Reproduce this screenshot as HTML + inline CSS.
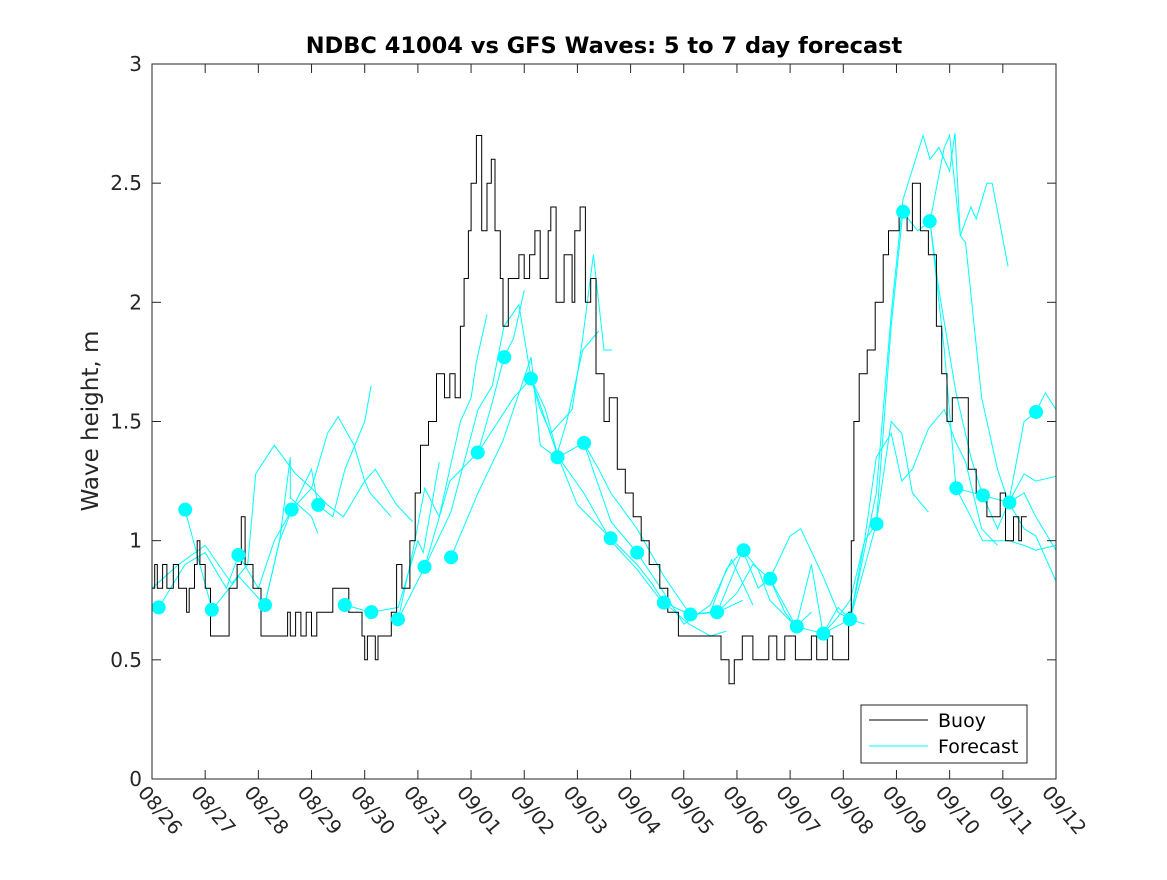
<!DOCTYPE html>
<html><head><meta charset="utf-8"><style>
html,body{margin:0;padding:0;background:#fff;}
svg text{font-family:"DejaVu Sans","Liberation Sans",sans-serif;}
</style></head><body>
<svg id="chart" width="1167" height="875" xmlns="http://www.w3.org/2000/svg">
<rect width="1167" height="875" fill="#fff"/>
<text x="604" y="53" text-anchor="middle" font-size="22.5" font-weight="bold" fill="#000">NDBC 41004 vs GFS Waves: 5 to 7 day forecast</text>
<text transform="translate(98,421) rotate(-90)" text-anchor="middle" font-size="23" fill="#262626">Wave height, m</text>
<g id="plot"></g>
<g id="axes"></g>
<g>
<rect x="861" y="705" width="166" height="58" fill="#fff" stroke="#262626" stroke-width="1"/>
<line x1="869" y1="720" x2="928" y2="720" stroke="#000"/>
<text x="938" y="727" font-size="19" fill="#000">Buoy</text>
<line x1="869" y1="746" x2="928" y2="746" stroke="#00ffff"/>
<text x="938" y="753" font-size="19" fill="#000">Forecast</text>
</g>
</svg>
<script>
const dateLabels=["08/26","08/27","08/28","08/29","08/30","08/31","09/01","09/02","09/03","09/04","09/05","09/06","09/07","09/08","09/09","09/10","09/11","09/12"];
const yTicks=[0,0.5,1,1.5,2,2.5,3];
const buoy=[[0,0.8],[0.05,0.9],[0.1,0.8],[0.2,0.9],[0.28,0.8],[0.4,0.9],[0.5,0.8],[0.65,0.7],[0.7,0.8],[0.8,0.9],[0.85,1.0],[0.9,0.9],[1.0,0.8],[1.1,0.6],[1.3,0.6],[1.45,0.8],[1.6,0.9],[1.68,1.1],[1.75,0.9],[1.9,0.8],[2.05,0.6],[2.5,0.6],[2.55,0.7],[2.6,0.6],[2.7,0.7],[2.8,0.6],[2.9,0.7],[3.0,0.6],[3.1,0.7],[3.3,0.7],[3.4,0.8],[3.7,0.7],[3.95,0.6],[4.0,0.5],[4.05,0.6],[4.2,0.5],[4.25,0.6],[4.5,0.7],[4.6,0.9],[4.7,0.8],[4.85,1.0],[4.95,1.2],[5.05,1.4],[5.2,1.5],[5.35,1.7],[5.5,1.6],[5.6,1.7],[5.7,1.6],[5.8,1.9],[5.87,2.1],[5.95,2.3],[6.0,2.5],[6.1,2.7],[6.2,2.3],[6.3,2.5],[6.38,2.6],[6.45,2.3],[6.55,2.1],[6.6,1.9],[6.7,2.1],[6.9,2.2],[7.0,2.1],[7.1,2.2],[7.2,2.3],[7.3,2.1],[7.45,2.3],[7.5,2.4],[7.6,2.0],[7.75,2.2],[7.9,2.0],[7.95,2.3],[8.05,2.4],[8.15,2.0],[8.25,2.1],[8.35,1.7],[8.5,1.5],[8.6,1.6],[8.75,1.3],[8.9,1.2],[9.05,1.1],[9.2,1.0],[9.35,0.9],[9.55,0.8],[9.7,0.7],[9.9,0.6],[10.7,0.5],[10.85,0.4],[10.95,0.5],[11.1,0.6],[11.3,0.5],[11.6,0.6],[11.75,0.5],[11.9,0.6],[12.1,0.5],[12.4,0.6],[12.5,0.5],[12.7,0.6],[12.8,0.5],[13.1,0.7],[13.15,1.0],[13.2,1.5],[13.3,1.7],[13.45,1.8],[13.6,2.0],[13.75,2.2],[13.85,2.3],[14.05,2.4],[14.2,2.3],[14.3,2.5],[14.45,2.3],[14.6,2.2],[14.75,1.9],[14.85,1.7],[14.95,1.5],[15.05,1.6],[15.35,1.3],[15.5,1.2],[15.7,1.1],[15.95,1.2],[16.05,1.0],[16.2,1.1],[16.3,1.0],[16.35,1.1],[16.45,1.1]];
const forecastSegments=[
[[0,0.8],[0.5,0.9],[1,0.98],[1.5,0.82],[1.8,0.9],[1.95,1.28],[2.3,1.40],[2.7,1.28],[3.0,1.22],[3.3,1.15],[3.6,1.10],[4.0,1.25],[4.2,1.30],[4.6,1.15],[4.9,1.08]],
[[0.13,0.72],[0.62,0.9],[1.0,0.95],[1.4,0.80],[1.63,0.94],[2.0,0.80],[2.3,1.0],[2.63,1.13],[3.0,1.22],[3.3,1.45],[3.5,1.52],[3.8,1.40],[4.0,1.25],[4.1,1.2],[4.5,1.1]],
[[0.62,1.13],[1.13,0.71],[1.63,0.85],[2.12,0.73],[2.4,1.0],[2.63,1.13],[3.0,1.3],[3.12,1.15],[3.4,1.10],[3.63,1.3],[4.0,1.5],[4.12,1.65]],
[[2.12,0.73],[2.4,1.0],[2.6,1.35],[2.6,1.18],[3.0,1.1],[3.12,1.03]],
[[3.63,0.73],[4.12,0.70],[4.63,0.72],[5.0,1.0],[5.1,0.95],[5.4,1.33]],
[[4.63,0.67],[4.9,0.95],[5.13,1.22],[5.4,1.10],[5.8,1.50],[6.0,1.6],[6.1,1.75],[6.3,1.95]],
[[4.63,0.67],[5.13,0.89],[5.6,1.25],[6.13,1.37],[6.4,1.58],[6.62,1.77],[6.8,1.85],[7.0,2.05]],
[[5.13,0.89],[5.62,1.12],[6.13,1.55],[6.4,1.65],[6.62,1.9],[6.9,1.99],[7.13,1.68],[7.3,1.55],[7.5,1.45],[7.7,1.50],[7.9,1.55],[8.1,1.85],[8.3,2.2],[8.5,1.8],[8.65,1.8]],
[[5.62,0.93],[6.13,1.2],[6.6,1.42],[7.13,1.77],[7.3,1.4],[7.6,1.35],[7.8,1.5],[8.1,1.8],[8.4,1.88]],
[[6.13,1.37],[6.8,1.6],[7.13,1.68],[7.4,1.55],[7.64,1.35],[8.12,1.2],[8.63,1.0],[9.12,0.88],[9.6,0.74]],
[[7.13,1.68],[7.64,1.35],[8.0,1.15],[8.63,1.01],[9.12,0.90],[9.4,0.82],[9.63,0.74],[10.1,0.65],[10.5,0.6],[10.8,0.62]],
[[7.64,1.35],[8.12,1.41],[8.4,1.3],[8.63,1.2],[9.12,1.05],[9.63,0.85],[10.12,0.69],[10.63,0.70],[11.11,0.75]],
[[8.12,1.41],[8.63,1.08],[9.12,0.95],[9.63,0.78],[10.0,0.65],[10.5,0.73],[10.9,0.92],[11.3,0.73]],
[[9.63,0.74],[10.12,0.69],[10.5,0.7],[10.8,0.88],[11.11,0.96],[11.4,0.80],[11.62,0.84],[11.9,0.7],[12.11,0.64],[12.4,0.7]],
[[10.12,0.69],[10.63,0.70],[11.0,0.78],[11.3,0.9],[11.62,0.84],[12.0,1.02],[12.2,1.05],[12.62,0.85],[12.9,0.7],[13.13,0.67],[13.4,0.65]],
[[10.63,0.70],[11.11,0.96],[11.4,0.88],[11.62,0.75],[12.11,0.64],[12.4,0.9],[12.62,0.61],[12.9,0.68],[13.13,0.75],[13.4,1.0],[13.62,1.35],[13.9,1.45],[14.1,1.25],[14.3,1.3],[14.6,1.47],[14.9,1.55],[15.1,1.42],[15.3,1.33],[15.6,1.05],[15.9,0.98]],
[[11.62,0.84],[12.11,0.64],[12.62,0.61],[12.9,0.72],[13.13,0.67],[13.62,1.07],[13.9,1.5],[14.1,1.45],[14.3,1.2],[14.6,1.12]],
[[12.62,0.61],[13.13,0.67],[13.4,1.0],[13.62,1.07],[13.9,1.9],[14.12,2.38],[14.4,2.3],[14.63,2.34],[14.8,2.05],[15.12,1.62],[15.4,1.35],[15.62,1.19],[16.11,1.16],[16.4,1.2],[16.62,1.1],[17,0.96]],
[[13.13,0.67],[13.62,1.2],[13.9,1.95],[14.12,2.43],[14.5,2.70],[14.63,2.6],[14.8,2.65],[15.0,2.55],[15.1,2.71],[15.2,2.28],[15.3,2.25],[15.6,1.6],[15.9,1.3],[16.11,1.16],[16.4,1.05],[16.62,1.02],[17,0.83]],
[[14.63,2.34],[14.9,2.65],[15.0,2.7],[15.2,2.28],[15.4,2.4],[15.5,2.35],[15.7,2.5],[15.8,2.5],[16.1,2.15]],
[[14.63,2.34],[14.9,1.8],[15.12,1.22],[15.4,1.1],[15.62,1.0],[16.11,1.0],[16.4,0.98],[16.62,0.96],[17,0.98]],
[[15.12,1.22],[15.62,1.19],[15.9,1.05],[16.11,1.16],[16.4,1.28],[16.62,1.25],[17,1.27]],
[[16.11,1.16],[16.4,1.5],[16.62,1.54],[16.8,1.62],[17,1.55]]
];
const dotValues=[0.72,1.13,0.71,0.94,0.73,1.13,1.15,0.73,0.70,0.67,0.89,0.93,1.37,1.77,1.68,1.35,1.41,1.01,0.95,0.74,0.69,0.70,0.96,0.84,0.64,0.61,0.67,1.07,2.38,2.34,1.22,1.19,1.16,1.54];

const X0=152,X1=1056,Y0=779,Y1=64;
const xs=d=>X0+d*(X1-X0)/17;
const ys=v=>Y0-v*(Y0-Y1)/3;
const NS="http://www.w3.org/2000/svg";
function mk(tag,attrs,parent){const e=document.createElementNS(NS,tag);for(const k in attrs)e.setAttribute(k,attrs[k]);parent.appendChild(e);return e;}
const plot=document.getElementById('plot'), axes=document.getElementById('axes');

forecastSegments.forEach((seg,i)=>{
  const p=mk('polyline',{points:seg.map(q=>xs(q[0]).toFixed(1)+','+ys(q[1]).toFixed(1)).join(' '),fill:'none',stroke:'#00ffff','stroke-width':1},plot);
  
  
});
let bp='';
buoy.forEach((q,i)=>{
  const x=xs(q[0]).toFixed(1),y=ys(q[1]).toFixed(1);
  if(i===0)bp+=`M${x},${y}`;else bp+=`H${x}V${y}`;
});
const bl=mk('path',{d:bp,fill:'none',stroke:'#000','stroke-width':1},plot);


dotValues.forEach((v,i)=>{
  const c=mk('circle',{cx:xs(0.125+i*0.5),cy:ys(v),r:7,fill:'#00ffff'},plot);
  
  
});

const box=mk('rect',{x:X0,y:Y1,width:X1-X0,height:Y0-Y1,fill:'none',stroke:'#262626','stroke-width':1},axes);


yTicks.forEach(v=>{
  const y=ys(v);
  mk('line',{x1:X0,x2:X0+9,y1:y,y2:y,stroke:'#262626'},axes);
  mk('line',{x1:X1,x2:X1-9,y1:y,y2:y,stroke:'#262626'},axes);
  const t=mk('text',{x:X0-10,y:y+7,'text-anchor':'end','font-size':20,fill:'#262626'},axes);
  t.textContent=String(v);
  
  
});
dateLabels.forEach((lab,i)=>{
  const x=xs(i);
  mk('line',{x1:x,x2:x,y1:Y0,y2:Y0-9,stroke:'#262626'},axes);
  mk('line',{x1:x,x2:x,y1:Y1,y2:Y1+9,stroke:'#262626'},axes);
  const t=mk('text',{transform:`translate(${x-15},${Y0+14}) rotate(50)`,'font-size':19.5,fill:'#262626'},axes);
  t.textContent=lab;
  
  
});
</script>
</body></html>
